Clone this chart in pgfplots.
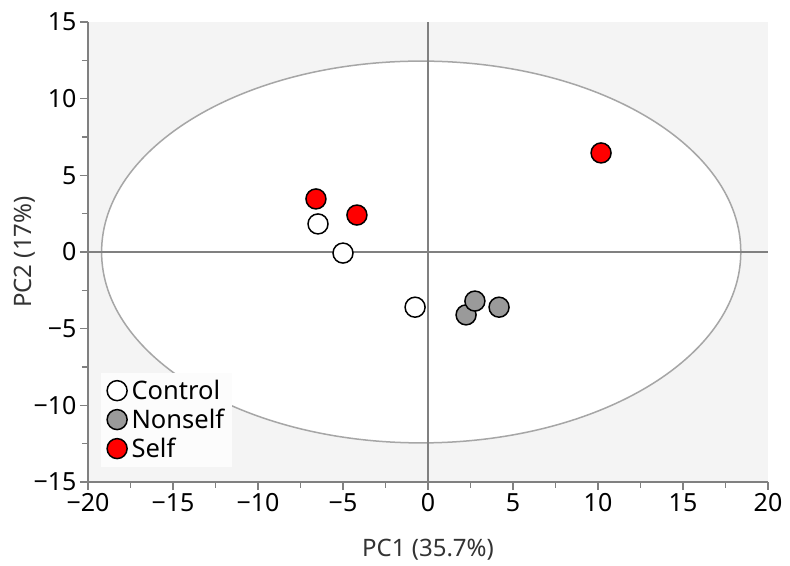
\documentclass[border=0pt]{standalone}
\usepackage{fontspec}
\setmainfont{Noto Sans}
\usepackage{pgfplots}
\pgfplotsset{compat=1.18}
\definecolor{bg}{HTML}{F4F4F4}
\definecolor{axgray}{HTML}{808080}
\definecolor{ellgray}{HTML}{A6A6A6}
\definecolor{nsgray}{HTML}{9A9A9A}
\begin{document}
\begin{tikzpicture}
\begin{axis}[
  name=ax,
  scale only axis, width=680pt, height=460pt,
  xmin=-20, xmax=20, ymin=-15, ymax=15,
  axis x line=bottom, axis y line=left,
  axis line style={-, draw=axgray, line width=1.8pt},
  axis background/.style={fill=bg},
  xtick={-20,-15,...,20}, ytick={-15,-10,...,15},
  xticklabels={−20,−15,−10,−5,0,5,10,15,20},
  yticklabels={−15,−10,−5,0,5,10,15},
  minor x tick num=1, minor y tick num=1,
  tick align=outside,
  major tick length=8pt, minor tick length=6pt,
  tick style={draw=axgray, line width=1.5pt},
  ticklabel style={font=\fontsize{25}{29}\selectfont},
  xlabel={PC1 (35.7\%)}, ylabel={PC2 (17\%)},
  label style={font=\fontsize{24}{28}\selectfont, text=black!80},
  xlabel style={yshift=-20pt},
  ylabel style={yshift=-9pt},
  legend style={at={(rel axis cs:0.019,0.033)}, anchor=south west, fill=white!70!bg, draw=none,
    font=\fontsize{25.5}{29}\selectfont, inner xsep=6pt, inner ysep=6pt, row sep=5pt,
    nodes={inner sep=1.5pt},
    /tikz/every odd column/.append style={column sep=3pt}},
  legend cell align=left,
  clip=false,
]
\draw[ellgray, line width=1.5pt, fill=white] (axis cs:-0.4,0) ellipse [x radius=18.8, y radius=12.45];
\draw[axgray, line width=1.8pt] (axis cs:0,-15) -- (axis cs:0,15);
\draw[axgray, line width=1.8pt] (axis cs:-20,0) -- (axis cs:20,0);
\addplot[only marks, mark=*, mark size=10pt, fill=white, draw=black, line width=1.5pt]
  coordinates {(-6.47,1.83) (-5.0,-0.07) (-0.76,-3.6)};
\addlegendentry{Control}
\addplot[only marks, mark=*, mark size=10pt, fill=nsgray, draw=black, line width=1.5pt]
  coordinates {(2.24,-4.1) (2.76,-3.2) (4.18,-3.6)};
\addlegendentry{Nonself}
\addplot[only marks, mark=*, mark size=10pt, fill=red, draw=black, line width=1.5pt]
  coordinates {(-6.59,3.46) (-4.18,2.41) (10.18,6.46)};
\addlegendentry{Self}
\end{axis}
\path ([shift={(-88pt,-84pt)}]ax.south west) rectangle ([shift={(22pt,22pt)}]ax.north east);
\end{tikzpicture}
\end{document}
